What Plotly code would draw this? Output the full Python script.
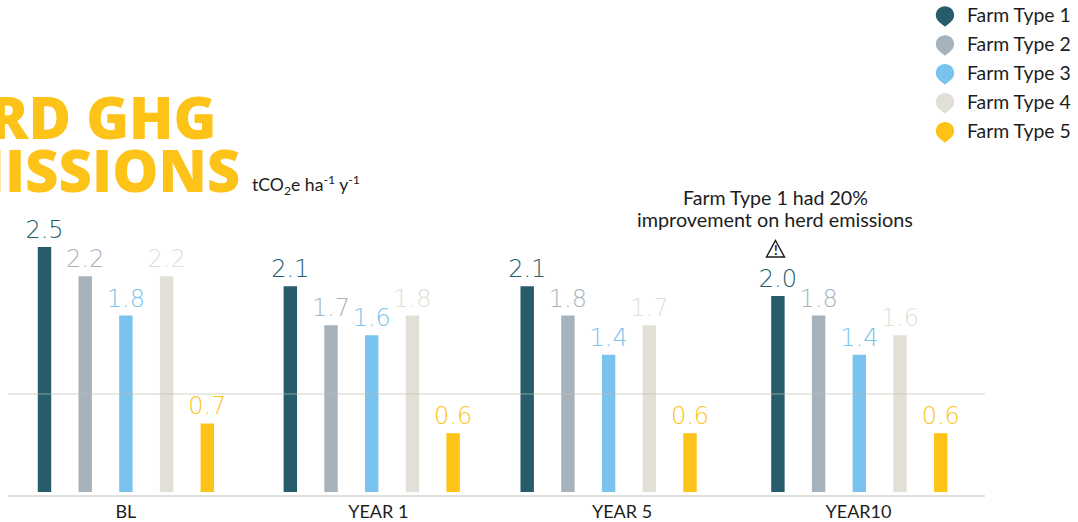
import plotly.graph_objects as go

periods = ["BL", "YEAR 1", "YEAR 5", "YEAR10"]
farm_types = ["Farm Type 1", "Farm Type 2", "Farm Type 3", "Farm Type 4", "Farm Type 5"]
farm_type_1 = [2.5, 2.1, 2.1, 2.0]
farm_type_2 = [2.2, 1.7, 1.8, 1.8]
farm_type_3 = [1.8, 1.6, 1.4, 1.4]
farm_type_4 = [2.2, 1.8, 1.7, 1.6]
farm_type_5 = [0.7, 0.6, 0.6, 0.6]

series = [farm_type_1, farm_type_2, farm_type_3, farm_type_4, farm_type_5]
colors = ["#265c6b", "#a6b3bc", "#7ac3ee", "#e2e0d6", "#fec318"]

# Page geometry, in pixels
W, H = 1078, 522
LEFT, RIGHT, TOP, BOTTOM = 8, 985, 220, 495.5
SLOT = 40.7
ORIGIN = 44.5
UNIT = 98.2
group_starts = [0, 6.04, 11.86, 18.02]
tick_slots = [2.0, 8.2, 14.19, 20.0]

BODY = "Lato"
DARK = "#1d1d1d"


def px(x):
    return (x - LEFT) / (RIGHT - LEFT)


def py(y):
    return (BOTTOM - y) / (BOTTOM - TOP)


fig = go.Figure()
for name, values, color, i in zip(farm_types, series, colors, range(5)):
    fig.add_trace(go.Bar(
        name=name,
        x=[start + i for start in group_starts],
        y=values,
        width=0.33,
        marker=dict(color=color, line_width=0),
        text=[f"{v:.1f}" for v in values],
        textposition="outside",
        constraintext="none",
        textfont=dict(family="DejaVu Sans ExtraLight, DejaVu Sans", size=24, color=color, weight=200),
        cliponaxis=False,
    ))

shapes = [dict(
    type="line", xref="paper", yref="y", x0=0, x1=1, y0=1, y1=1,
    line=dict(color="rgba(190,190,175,0.45)", width=1.5), layer="above",
)]
annotations = []


def text(x, y, label, size, anchor="left", color=DARK, family=BODY, weight=400):
    annotations.append(dict(
        xref="paper", yref="paper", x=px(x), y=py(y), text=label, showarrow=False,
        xanchor=anchor, yanchor="middle",
        font=dict(family=family, size=size, color=color, weight=weight),
    ))


# Heading, running off the left edge of the page
text(217.5, 116, "HERD GHG", 58, "right", "#fec318", "Open Sans", 800)
text(241.5, 169, "EMISSIONS", 58, "right", "#fec318", "Open Sans", 800)
text(250, 185, "tCO<sub>2</sub>e ha<sup>-1</sup> y<sup>-1</sup>", 17.6)

# Callout above the last Farm Type 1 bar
text(775, 197.5, "Farm Type 1 had 20%", 19.6, "center")
text(775, 218.5, "improvement on herd emissions", 19.8, "center")


def pth(points):
    return " ".join(f"{cmd} " + " ".join(f"{px(a):.5f},{py(b):.5f}" for a, b in pts)
                    for cmd, pts in points) + " Z"


# Warning triangle
shapes.append(dict(
    type="path", xref="paper", yref="paper",
    path=pth([("M", [(775.5, 240.5)]), ("L", [(784.5, 257)]), ("L", [(766.5, 257)])]),
    line=dict(color="#1a1a1a", width=1.4), fillcolor="white", layer="above",
))
text(775.5, 250, "!", 13, "center", "#1a1a1a", BODY, 700)

# Pin-shaped legend keys
for i, (name, color) in enumerate(zip(farm_types, colors)):
    cy = 15 + i * 29
    cx = 945
    r = 9.2
    shapes.append(dict(
        type="path", xref="paper", yref="paper",
        path=pth([
            ("M", [(cx, cy + 11.5)]),
            ("C", [(cx - 2.5, cy + 9), (cx - r, cy + 6), (cx - r, cy)]),
            ("C", [(cx - r, cy - 5.5), (cx - 5, cy - r), (cx, cy - r)]),
            ("C", [(cx + 5, cy - r), (cx + r, cy - 5.5), (cx + r, cy)]),
            ("C", [(cx + r, cy + 6), (cx + 2.5, cy + 9), (cx, cy + 11.5)]),
        ]),
        line_width=0, fillcolor=color, layer="above",
    ))
    text(965, cy - 0.5, name, 19.4)

fig.update_layout(
    width=W, height=H,
    margin=dict(l=LEFT, r=W - RIGHT, t=TOP, b=H - BOTTOM, pad=0, autoexpand=False),
    paper_bgcolor="white", plot_bgcolor="white",
    barmode="overlay", showlegend=False,
    shapes=shapes, annotations=annotations,
    xaxis=dict(
        range=[(LEFT - ORIGIN) / SLOT, (RIGHT - ORIGIN) / SLOT],
        tickmode="array", tickvals=tick_slots, ticktext=periods,
        tickfont=dict(family=BODY, size=18, color=DARK),
        ticks="",
        showgrid=False, zeroline=False, automargin=False,
        showline=True, linecolor="#e0e0dc", linewidth=1.5,
    ),
    yaxis=dict(
        range=[-3 / UNIT, -3 / UNIT + (BOTTOM - TOP) / UNIT],
        visible=False, showgrid=False, zeroline=False,
    ),
)

fig.write_html("out.html", config=dict(displayModeBar=False))
